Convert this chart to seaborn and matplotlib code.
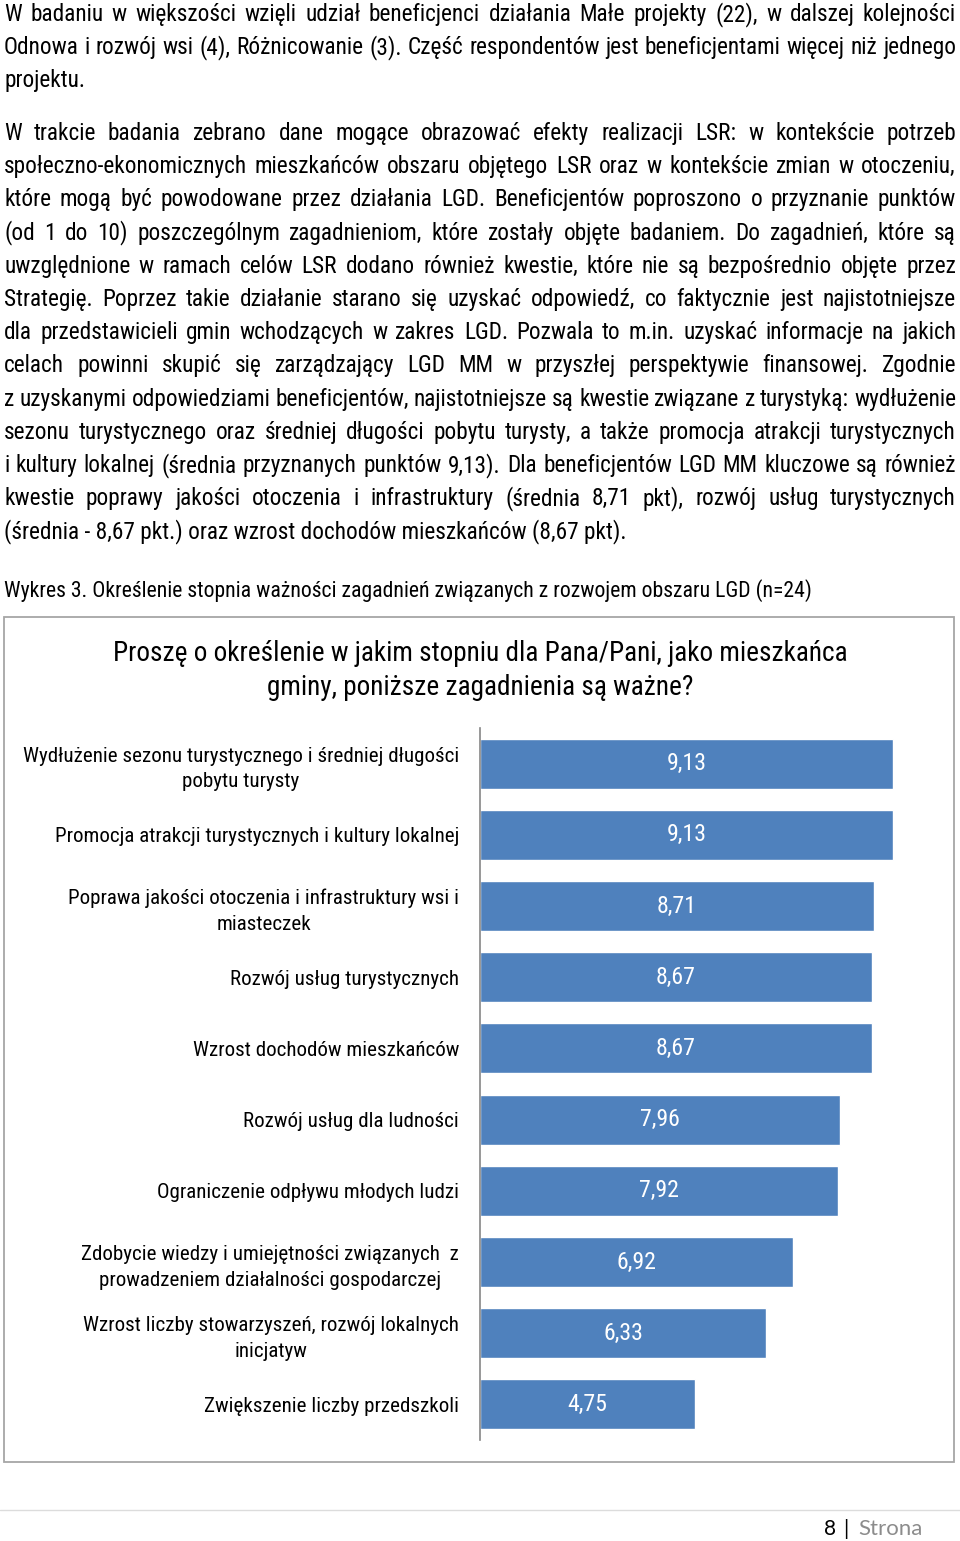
import matplotlib
matplotlib.use("Agg")
import matplotlib.pyplot as plt
import seaborn as sns
import pandas as pd
from matplotlib import font_manager as fm
from matplotlib.patches import Rectangle
from matplotlib.lines import Line2D

# ---------------- data ----------------
categories = [
    "Wydłużenie sezonu turystycznego i średniej długości\npobytu turysty",
    "Promocja atrakcji turystycznych i kultury lokalnej",
    "Poprawa jakości otoczenia i infrastruktury wsi i\nmiasteczek",
    "Rozwój usług turystycznych",
    "Wzrost dochodów mieszkańców",
    "Rozwój usług dla ludności",
    "Ograniczenie odpływu młodych ludzi",
    "Zdobycie wiedzy i umiejętności związanych  z\nprowadzeniem działalności gospodarczej",
    "Wzrost liczby stowarzyszeń, rozwój lokalnych\ninicjatyw",
    "Zwiększenie liczby przedszkoli",
]
values = [9.13, 9.13, 8.71, 8.67, 8.67, 7.96, 7.92, 6.92, 6.33, 4.75]

chart_title = "Proszę o określenie w jakim stopniu dla Pana/Pani, jako mieszkańca\ngminy, poniższe zagadnienia są ważne?"
caption = "Wykres 3. Określenie stopnia ważności zagadnień związanych z rozwojem obszaru LGD (n=24)"

para1 = [
    "W badaniu w większości wzięli udział beneficjenci działania Małe projekty (22), w dalszej kolejności",
    "Odnowa i rozwój wsi (4), Różnicowanie (3). Część respondentów jest beneficjentami więcej niż jednego",
    "projektu.",
]
para2 = [
    "W trakcie badania zebrano dane mogące obrazować efekty realizacji LSR: w kontekście potrzeb",
    "społeczno-ekonomicznych mieszkańców obszaru objętego LSR oraz w kontekście zmian w otoczeniu,",
    "które mogą być powodowane przez działania LGD. Beneficjentów poproszono o przyznanie punktów",
    "(od 1 do 10) poszczególnym zagadnieniom, które zostały objęte badaniem. Do zagadnień, które są",
    "uwzględnione w ramach celów LSR dodano również kwestie, które nie są bezpośrednio objęte przez",
    "Strategię. Poprzez takie działanie starano się uzyskać odpowiedź, co faktycznie jest najistotniejsze",
    "dla przedstawicieli gmin wchodzących w zakres LGD. Pozwala to m.in. uzyskać informacje na jakich",
    "celach powinni skupić się zarządzający LGD MM w przyszłej perspektywie finansowej. Zgodnie",
    "z uzyskanymi odpowiedziami beneficjentów, najistotniejsze są kwestie związane z turystyką: wydłużenie",
    "sezonu turystycznego oraz średniej długości pobytu turysty, a także promocja atrakcji turystycznych",
    "i kultury lokalnej (średnia przyznanych punktów 9,13). Dla beneficjentów LGD MM kluczowe są również",
    "kwestie poprawy jakości otoczenia i infrastruktury (średnia 8,71 pkt), rozwój usług turystycznych",
    "(średnia - 8,67 pkt.) oraz wzrost dochodów mieszkańców (8,67 pkt).",
]
page_no = "8"
page_word = "Strona"

# ---------------- setup ----------------
W, H = 960, 1541
sns.set_theme(style="white")
avail = {f.name for f in fm.fontManager.ttflist}
FAM = "Liberation Sans"
for cand in ["Liberation Sans Narrow", "Arial Narrow", "Roboto Condensed", "Roboto", "Liberation Sans"]:
    if cand in avail:
        FAM = cand
        break
plt.rcParams["font.family"] = [FAM, "DejaVu Sans"]
plt.rcParams["text.color"] = "black"
FOOT = ["Lato", "Open Sans", "DejaVu Sans"]

fig = plt.figure(figsize=(W / 100, H / 100), dpi=100)
fig.patch.set_facecolor("white")
renderer = fig.canvas.get_renderer()


def fx(x):
    return x / W


def fy(y):
    return 1 - y / H


def width_px(s, size, **kw):
    t = fig.text(0, 0, s, fontsize=size, **kw)
    w = t.get_window_extent(renderer).width
    t.remove()
    return w


def fit(s, target, **kw):
    return 10 * target / width_px(s, 10, **kw)


body_size = fit(para2[-1], 618)
cap_size = fit(caption, 804)
title_size = fit(chart_title.split("\n")[0], 731)
cat_size = fit(categories[1], 402)
val_size = fit("9,13", 40)


def justified(line, y, size, x0=4, x1=956):
    words = line.split()
    ws = [width_px(w, size) for w in words]
    gap = (x1 - x0 - sum(ws)) / (len(words) - 1)
    x = x0
    for w, wd in zip(words, ws):
        fig.text(fx(x), fy(y), w, fontsize=size, va="baseline", ha="left", color="black")
        x += wd + gap


def paragraph(lines, y0, step, size):
    for i, line in enumerate(lines):
        y = y0 + i * step
        if i == len(lines) - 1:
            fig.text(fx(4), fy(y), line, fontsize=size, va="baseline", ha="left", color="black")
        else:
            justified(line, y, size)


paragraph(para1, 21, 33.2, body_size)
paragraph(para2, 140, 33.2, body_size)
fig.text(fx(4), fy(597), caption, fontsize=cap_size, va="baseline", ha="left", color="black")

# chart frame
fig.patches.append(Rectangle((fx(4), fy(1462)), (954 - 4) / W, (1462 - 617) / H,
                             transform=fig.transFigure, fill=False,
                             edgecolor="#a6a6a6", linewidth=1.3))
t_lines = chart_title.split("\n")
fig.text(fx(480), fy(661), t_lines[0], fontsize=title_size, ha="center", va="baseline")
fig.text(fx(480), fy(695), t_lines[1], fontsize=title_size, ha="center", va="baseline")

# ---------------- bar chart ----------------
ax = fig.add_axes([fx(480), fy(1440), 452 / W, (1440 - 728) / H])
df = pd.DataFrame({"cat": categories, "val": values})
sns.barplot(data=df, x="val", y="cat", orient="h", color="#4F81BD",
            saturation=1, width=0.7, ax=ax)
ax.set_xlim(0, 10)
ax.set_ylim(len(categories) - 0.5, -0.5)
ax.set_xlabel("")
ax.set_ylabel("")
ax.set_xticks([])
for s in ["top", "right", "bottom"]:
    ax.spines[s].set_visible(False)
ax.spines["left"].set_color("#868686")
ax.spines["left"].set_linewidth(1.2)
ax.tick_params(axis="y", length=0, pad=15, labelsize=cat_size, labelcolor="black")
for lab in ax.get_yticklabels():
    lab.set_multialignment("center")
    lab.set_linespacing(1.44)
ax.bar_label(ax.containers[0], labels=[f"{v:.2f}".replace(".", ",") for v in values],
             label_type="center", color="white", fontsize=val_size)

# ---------------- footer ----------------
fig.lines.append(Line2D([0, 1], [fy(1510), fy(1510)], transform=fig.transFigure,
                        color="#dcdcdc", linewidth=1))
fig.text(fx(836), fy(1535), page_no, fontsize=15, ha="right", va="baseline",
         family=FOOT, color="black")
fig.text(fx(846), fy(1535), "|", fontsize=15, ha="center", va="baseline",
         family=FOOT, color="black")
fig.text(fx(858), fy(1535), page_word, fontsize=16, ha="left", va="baseline",
         family=FOOT, color="#8c8c8c")

fig.savefig("out.png", dpi=100, facecolor="white")
